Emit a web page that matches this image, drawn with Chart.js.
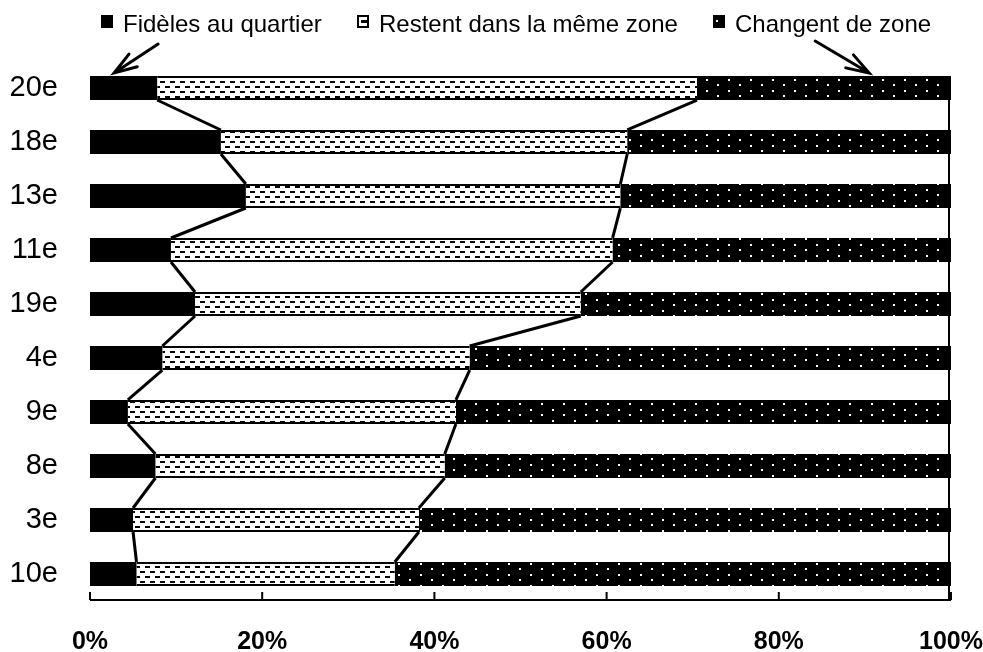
<!DOCTYPE html>
<html>
<head>
<meta charset="utf-8">
<script src="https://cdn.jsdelivr.net/npm/chart.js@4"></script>
<style>
  html, body { margin: 0; padding: 0; background: #fff; }
  #wrap { width: 983px; height: 652px; }
</style>
</head>
<body>
<div id="wrap"><canvas id="chart" width="983" height="652"></canvas></div>
<script>
// arrondissements, top to bottom
const labels = ['20e', '18e', '13e', '11e', '19e', '4e', '9e', '8e', '3e', '10e'];
// shares in %
const fideles  = [7.8, 15.2, 18.1, 9.4, 12.2, 8.4, 4.4, 7.6, 5.0, 5.4];
const restent  = [62.7, 47.2, 43.5, 51.3, 44.8, 35.7, 38.1, 33.6, 33.2, 30.0];
const changent = [29.5, 37.6, 38.4, 39.3, 43.0, 55.9, 57.5, 58.8, 61.8, 64.6];
const seriesNames = ['Fidèles au quartier', 'Restent dans la même zone', 'Changent de zone'];
const xTicks = [0, 20, 40, 60, 80, 100];

function makePattern(w, h, bg, fg, rects) {
  const c = document.createElement('canvas');
  c.width = w; c.height = h;
  const g = c.getContext('2d');
  g.fillStyle = bg; g.fillRect(0, 0, w, h);
  g.fillStyle = fg;
  rects.forEach(r => g.fillRect(r[0], r[1], r[2], r[3]));
  return document.getElementById('chart').getContext('2d').createPattern(c, 'repeat');
}

const dashPattern = makePattern(10, 10, '#fff', '#000', [[0, 1, 5, 2], [5, 6, 5, 2]]);
const dotPattern = makePattern(22, 11, '#000', '#fff', [[2, 2, 2, 2], [13, 7, 2, 2]]);

const FONT = '"Liberation Sans", Arial, sans-serif';

// lines joining segment ends between consecutive bars + axis + arrows + legend
const extras = {
  id: 'extras',
  afterDatasetsDraw(chart) {
    const ctx = chart.ctx;
    const xs = chart.scales.x;
    const area = chart.chartArea;
    ctx.save();
    ctx.strokeStyle = '#000';
    ctx.lineWidth = 3;
    [0, 1].forEach(di => {
      const bars = chart.getDatasetMeta(di).data;
      for (let i = 0; i < bars.length - 1; i++) {
        const a = bars[i], b = bars[i + 1];
        ctx.beginPath();
        ctx.moveTo(a.x, a.y + a.height / 2);
        ctx.lineTo(b.x, b.y - b.height / 2);
        ctx.stroke();
      }
    });

    // bottom axis with inward ticks
    const yAxis = area.bottom - 1;
    ctx.lineWidth = 2;
    ctx.beginPath();
    ctx.moveTo(xs.getPixelForValue(0), yAxis);
    ctx.lineTo(xs.getPixelForValue(100), yAxis);
    xTicks.forEach(v => {
      const px = xs.getPixelForValue(v);
      ctx.moveTo(px, yAxis);
      ctx.lineTo(px, yAxis - 8);
    });
    ctx.stroke();

    // right border line
    const first = chart.getDatasetMeta(2).data[0];
    ctx.lineWidth = 2;
    ctx.beginPath();
    ctx.moveTo(xs.getPixelForValue(100) - 2, first.y - first.height / 2);
    ctx.lineTo(xs.getPixelForValue(100) - 2, yAxis);
    ctx.stroke();

    // arrows from legend to top bar
    const topY = first.y - first.height / 2 - 3;
    drawArrow(ctx, xs.getPixelForValue(2.8) + 44, topY - 29, xs.getPixelForValue(2.8), topY);
    drawArrow(ctx, xs.getPixelForValue(90.5) - 54, topY - 32, xs.getPixelForValue(90.5), topY);

    // legend
    ctx.font = '24px ' + FONT;
    ctx.textBaseline = 'alphabetic';
    ctx.fillStyle = '#000';
    const legendX = [101, 357, 713];
    legendX.forEach((lx, i) => {
      drawLegendBox(ctx, i, lx, 15);
      ctx.fillStyle = '#000';
      ctx.fillText(seriesNames[i], lx + 22, 32);
    });
    ctx.restore();
  }
};

function drawArrow(ctx, x0, y0, x1, y1) {
  const ang = Math.atan2(y1 - y0, x1 - x0);
  const len = 24, spread = 0.32;
  ctx.lineWidth = 3;
  ctx.lineCap = 'round';
  ctx.beginPath();
  ctx.moveTo(x0, y0);
  ctx.lineTo(x1, y1);
  ctx.moveTo(x1 - len * Math.cos(ang - spread), y1 - len * Math.sin(ang - spread));
  ctx.lineTo(x1, y1);
  ctx.lineTo(x1 - len * Math.cos(ang + spread), y1 - len * Math.sin(ang + spread));
  ctx.stroke();
  ctx.lineCap = 'butt';
}

function drawLegendBox(ctx, i, x, y) {
  const w = 12, h = 13;
  ctx.fillStyle = '#000';
  ctx.fillRect(x, y, w, h);
  if (i === 1) {
    ctx.fillStyle = '#fff';
    ctx.fillRect(x + 2, y + 2, w - 4, h - 4);
    ctx.fillStyle = '#000';
    ctx.fillRect(x + 4, y + 5, 6, 3);
  } else if (i === 2) {
    ctx.fillStyle = '#fff';
    ctx.fillRect(x + 3, y + 5, 2, 2);
  }
}

new Chart(document.getElementById('chart'), {
  type: 'bar',
  data: {
    labels: labels,
    datasets: [
      { label: seriesNames[0], data: fideles, backgroundColor: '#000', borderWidth: 0 },
      { label: seriesNames[1], data: restent, backgroundColor: dashPattern, borderColor: '#000',
        borderWidth: { top: 2, bottom: 2, left: 0, right: 0 }, borderSkipped: false },
      { label: seriesNames[2], data: changent, backgroundColor: dotPattern, borderWidth: 0 }
    ]
  },
  options: {
    indexAxis: 'y',
    responsive: false,
    animation: false,
    events: [],
    datasets: { bar: { categoryPercentage: 1, barPercentage: 0.445 } },
    layout: { padding: { top: 61, right: 32, left: 0, bottom: 0 } },
    plugins: { legend: { display: false }, tooltip: { enabled: false } },
    scales: {
      x: {
        stacked: true,
        min: 0, max: 100,
        afterFit: s => { s.height = 51; s.paddingLeft = 0; s.paddingRight = 0; },
        afterBuildTicks: s => { s.ticks = xTicks.map(v => ({ value: v })); },
        grid: { display: false, drawTicks: false },
        border: { display: false },
        ticks: {
          padding: 26,
          color: '#000',
          font: { family: FONT, size: 25, weight: 'bold' },
          maxRotation: 0,
          callback: v => v + '%'
        }
      },
      y: {
        stacked: true,
        afterFit: s => { s.width = 90; s.paddingTop = 0; s.paddingBottom = 0; },
        grid: { display: false, drawTicks: false },
        border: { display: false },
        ticks: {
          padding: 32,
          color: '#000',
          font: { family: FONT, size: 29 }
        }
      }
    }
  },
  plugins: [extras]
});
</script>
</body>
</html>
